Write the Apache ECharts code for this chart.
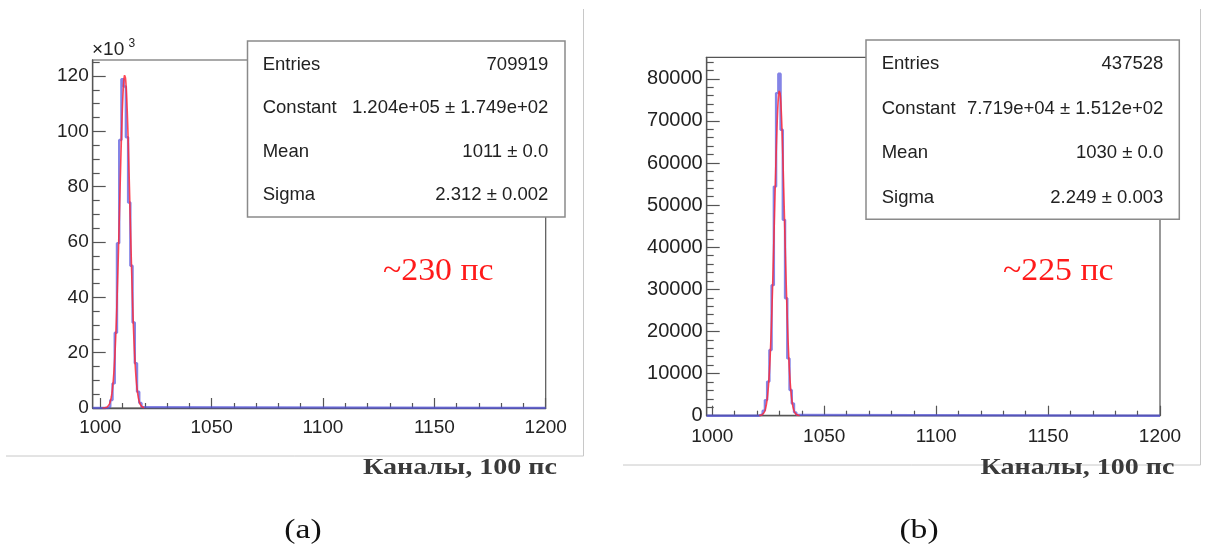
<!DOCTYPE html>
<html>
<head>
<meta charset="utf-8">
<script src="https://cdn.jsdelivr.net/npm/echarts@6/dist/echarts.min.js"></script>
<style>
  html, body { margin: 0; padding: 0; background: #ffffff; }
  #chart { width: 1222px; height: 548px; }
</style>
</head>
<body>
<div id="chart"></div>
<script>
// ---- Panel (a): time spectrum, 1-channel bins starting at binLowEdgeA ----
const binLowEdgeA = 1003.5;
const countsA = [500, 2900, 8900, 27200, 59600, 96900, 118900, 116200, 97900,
                 74300, 51400, 30900, 16200, 5900, 1800, 300];
const fitParamsA = [120400, 1011, 2.312];          // constant, mean, sigma
const fitRangeA = [1001, 1020];
const statValuesA = ['709919', '1.204e+05 \u00b1 1.749e+02', '1011 \u00b1 0.0', '2.312 \u00b1 0.002'];
const yTicksA = [0, 20000, 40000, 60000, 80000, 100000, 120000];   // labelled in units of 10^3

// ---- Panel (b) ----
const binLowEdgeB = 1020.5;
const countsB = [100, 400, 1200, 3700, 8100, 15600, 31000, 54400, 76600, 81200,
                 67900, 46500, 27900, 13600, 6100, 2900, 800, 200];
const fitParamsB = [77190, 1030, 2.249];
const fitRangeB = [1021, 1039];
const statValuesB = ['437528', '7.719e+04 \u00b1 1.512e+02', '1030 \u00b1 0.0', '2.249 \u00b1 0.003'];
const yTicksB = [0, 10000, 20000, 30000, 40000, 50000, 60000, 70000, 80000];

// ---- shared ----
const xTicks = [1000, 1050, 1100, 1150, 1200];
const statNames = ['Entries', 'Constant', 'Mean', 'Sigma'];
const resolutionNotes = ['~230 \u043f\u0441', '~225 \u043f\u0441'];
const axisTitle = '\u041a\u0430\u043d\u0430\u043b\u044b, 100 \u043f\u0441';
const panelTags = ['(a)', '(b)'];

const SANS = "'Liberation Sans', Arial, Helvetica, sans-serif";
const SERIF = "'Liberation Serif', 'Times New Roman', serif";
const FRAME = '#555555';

// axis extents of the two frames
const xRangeA = [996.6, 1200], yMaxA = 125800;
const xRangeB = [997.5, 1200], yMaxB = 85100;

// step outline of a histogram, flat at zero outside the filled bins
function histPoints(lowEdge, counts, xRange) {
  const pts = [[xRange[0], 0]];
  counts.forEach((c, i) => pts.push([lowEdge + i, c]));
  pts.push([lowEdge + counts.length, 0]);
  pts.push([xRange[1], 0]);
  return pts;
}
// fitted gaussian drawn over its fit range
function fitPoints(params, range) {
  const [c, m, s] = params;
  const pts = [];
  for (let x = range[0]; x <= range[1] + 1e-9; x += 0.1) {
    pts.push([x, c * Math.exp(-0.5 * ((x - m) / s) ** 2)]);
  }
  return pts;
}
function minorList(from, to, step, skip) {
  const out = [];
  for (let v = from; v <= to + 1e-9; v += step) {
    if (v % skip !== 0) out.push(v);
  }
  return out;
}

const tickLine = { color: FRAME, width: 1.2 };

function xAxesFor(grid, range, margin) {
  return [
    {
      gridIndex: grid, type: 'value', min: range[0], max: range[1], position: 'bottom',
      axisLine: { show: true, onZero: false, lineStyle: { color: FRAME, width: 1.3 } },
      axisTick: { show: true, inside: true, length: 10, customValues: xTicks, lineStyle: tickLine },
      axisLabel: { customValues: xTicks, fontSize: 19, fontFamily: SANS, color: '#222', margin: margin,
                   formatter: v => String(v) },
      splitLine: { show: false }
    },
    {
      gridIndex: grid, type: 'value', min: range[0], max: range[1], position: 'bottom', offset: 0,
      axisLine: { show: false },
      axisTick: { show: true, inside: true, length: 5, customValues: minorList(1000, 1200, 10, 50), lineStyle: tickLine },
      axisLabel: { show: false }, splitLine: { show: false }
    }
  ];
}
function yAxesFor(grid, max, ticks, minorStep, majorStep, fmt, fontSize) {
  return [
    {
      gridIndex: grid, type: 'value', min: 0, max: max, position: 'left',
      axisLine: { show: true, onZero: false, lineStyle: { color: FRAME, width: 1.3 } },
      axisTick: { show: true, inside: true, length: 13, customValues: ticks, lineStyle: tickLine },
      axisLabel: { customValues: ticks, fontSize: fontSize, fontFamily: SANS, color: '#222', margin: 4, formatter: fmt },
      splitLine: { show: false }
    },
    {
      gridIndex: grid, type: 'value', min: 0, max: max, position: 'left', offset: 0,
      axisLine: { show: false },
      axisTick: { show: true, inside: true, length: 7, customValues: minorList(0, max, minorStep, majorStep), lineStyle: tickLine },
      axisLabel: { show: false }, splitLine: { show: false }
    }
  ];
}

const histStyle = { color: 'rgba(85, 85, 220, 0.72)', width: 2.4 };
const fitStyle = { color: 'rgba(255, 40, 55, 0.85)', width: 1.6 };

function statBox(x, y, w, h, nameX, valueX, rowsY, values) {
  const els = [{
    type: 'rect', z: 100,
    shape: { x: x, y: y, width: w, height: h },
    style: { fill: '#ffffff', stroke: '#8a8a8a', lineWidth: 1.5 }
  }];
  statNames.forEach((n, i) => {
    els.push({ type: 'text', z: 101, x: nameX, y: rowsY[i],
      style: { text: n, font: '18.5px ' + SANS, fill: '#222', textAlign: 'left', textVerticalAlign: 'middle' } });
    els.push({ type: 'text', z: 101, x: valueX, y: rowsY[i],
      style: { text: values[i], font: '18.5px ' + SANS, fill: '#222', textAlign: 'right', textVerticalAlign: 'middle' } });
  });
  return els;
}

const panelLine = { stroke: '#c8c8c8', lineWidth: 1 };

function label(text, x, y, font, fill, align, sx) {
  return { type: 'text', z: 101, x: x, y: y, scaleX: sx,
    style: { text: text, font: font, fill: fill, textAlign: align, textVerticalAlign: 'middle' } };
}

const option = {
  backgroundColor: '#ffffff',
  animation: false,
  grid: [
    { left: 92.7, top: 60, width: 453, height: 348, show: true, borderColor: FRAME, borderWidth: 1.2, backgroundColor: 'transparent' },
    { left: 706.7, top: 57.3, width: 453.3, height: 358.4, show: true, borderColor: FRAME, borderWidth: 1.2, backgroundColor: 'transparent' }
  ],
  xAxis: [...xAxesFor(0, xRangeA, 10), ...xAxesFor(1, xRangeB, 12)],
  yAxis: [
    ...yAxesFor(0, yMaxA, yTicksA, 5000, 20000, v => String(Math.round(v / 1000)), 19),
    ...yAxesFor(1, yMaxB, yTicksB, 2000, 10000, v => String(v), 20)
  ],
  series: [
    { type: 'line', xAxisIndex: 0, yAxisIndex: 0, step: 'end', symbol: 'none', clip: true,
      lineStyle: histStyle, data: histPoints(binLowEdgeA, countsA, xRangeA), z: 3 },
    { type: 'line', xAxisIndex: 0, yAxisIndex: 0, symbol: 'none', clip: true,
      lineStyle: fitStyle, data: fitPoints(fitParamsA, fitRangeA), z: 4 },
    { type: 'line', xAxisIndex: 2, yAxisIndex: 2, step: 'end', symbol: 'none', clip: true,
      lineStyle: histStyle, data: histPoints(binLowEdgeB, countsB, xRangeB), z: 3 },
    { type: 'line', xAxisIndex: 2, yAxisIndex: 2, symbol: 'none', clip: true,
      lineStyle: fitStyle, data: fitPoints(fitParamsB, fitRangeB), z: 4 }
  ],
  graphic: [
    // panel outlines
    { type: 'line', z: 1, shape: { x1: 583.5, y1: 9, x2: 583.5, y2: 456 }, style: panelLine },
    { type: 'line', z: 1, shape: { x1: 6, y1: 456, x2: 583.5, y2: 456 }, style: panelLine },
    { type: 'line', z: 1, shape: { x1: 1200.5, y1: 9, x2: 1200.5, y2: 465 }, style: panelLine },
    { type: 'line', z: 1, shape: { x1: 623, y1: 465, x2: 1200.5, y2: 465 }, style: panelLine },

    // y scale factor of panel (a)
    label('\u00d710', 92, 50, '19px ' + SANS, '#222', 'left', 1),
    label('3', 128.5, 44, '12px ' + SANS, '#222', 'left', 1),

    ...statBox(247.5, 41, 317.5, 176, 262.7, 548.3, [65, 107.7, 151.7, 195], statValuesA),
    ...statBox(866, 40, 313.3, 179.3, 881.7, 1163.3, [64.3, 109, 153.3, 197.7], statValuesB),

    // time resolution notes
    label(resolutionNotes[0], 383, 272, '31px ' + SERIF, '#ff1a1a', 'left', 1.09),
    label(resolutionNotes[1], 1003, 272, '31px ' + SERIF, '#ff1a1a', 'left', 1.09),

    // axis titles
    label(axisTitle, 460, 468, 'bold 23px ' + SERIF, '#3a3a3a', 'center', 1.22),
    label(axisTitle, 1077.5, 468.5, 'bold 23px ' + SERIF, '#3a3a3a', 'center', 1.22),

    // panel tags
    label(panelTags[0], 303, 531, '28px ' + SERIF, '#111', 'center', 1.2),
    label(panelTags[1], 919, 531, '28px ' + SERIF, '#111', 'center', 1.2)
  ]
};

const chart = echarts.init(document.getElementById('chart'), null, { renderer: 'canvas' });
chart.setOption(option);
</script>
</body>
</html>
